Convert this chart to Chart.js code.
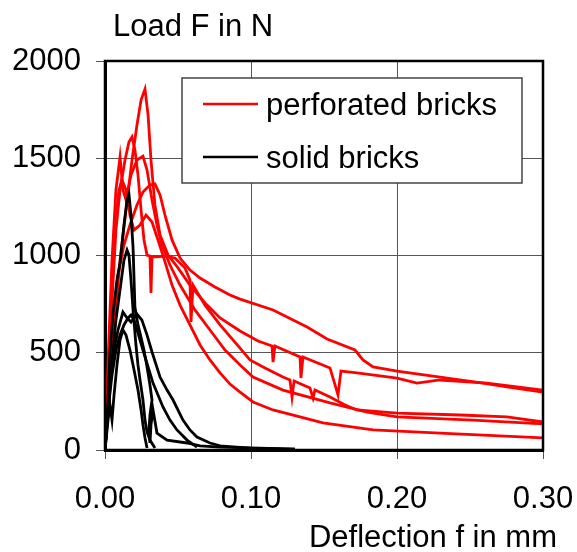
<!DOCTYPE html>
<html>
<head>
<meta charset="utf-8">
<script src="https://cdn.jsdelivr.net/npm/chart.js@4"></script>
<style>
  html, body { margin: 0; padding: 0; background: #fff; }
  #wrap { width: 577px; height: 552px; }
</style>
</head>
<body>
<div id="wrap"><canvas id="loadChart" width="577" height="552"></canvas></div>
<script>
// ---- DATA: [deflection in mm, load in N] ----
const perf1 = [[0,0],[.0027,360],[.0055,668],[.0089,900],[.013,1054],[.0171,1157],[.0219,1260],[.026,1326],[.0308,1362],[.0342,1368],[.0377,1311],[.0411,1208],[.0459,1080],[.0514,987],[.0582,925],[.0651,884],[.0753,838],[.0856,797],[.0925,776],[.1151,720],[.1384,632],[.1521,571],[.1712,514],[.1767,463],[.1836,427],[.2,406],[.2295,375],[.2589,344],[.2753,324],[.3,298]];
const perf2 = [[0,0],[.0034,308],[.0068,668],[.0103,977],[.0144,1234],[.0185,1491],[.0219,1671],[.0247,1799],[.0274,1856],[.0295,1722],[.0315,1491],[.0342,1260],[.0377,1105],[.0432,1002],[.05,936],[.0582,848],[.0685,756],[.0788,679],[.0925,612],[.1048,560],[.1144,535],[.1151,452],[.1164,535],[.1336,478],[.1342,370],[.1356,478],[.1541,422],[.1596,283],[.1616,406],[.1726,396],[.2,370],[.2137,344],[.2295,360],[.2616,344],[.3,308]];
const perf3 = [[0,0],[.0021,360],[.0048,771],[.0075,1131],[.0103,1337],[.0137,1491],[.0164,1583],[.0185,1609],[.0205,1542],[.0226,1414],[.0247,1234],[.0267,1080],[.0288,1002],[.0308,997],[.0315,807],[.0322,992],[.0411,997],[.0479,987],[.0548,936],[.0582,874],[.0589,658],[.0603,848],[.0685,745],[.0788,643],[.0925,524],[.0993,463],[.1096,422],[.1219,375],[.1267,360],[.1281,272],[.1295,355],[.1404,319],[.1425,267],[.1438,308],[.1541,272],[.1644,231],[.1726,206],[.2,190],[.2432,180],[.2753,170],[.3,144]];
const perf4 = [[0,0],[.0021,463],[.0048,977],[.0075,1337],[.0103,1506],[.0123,1337],[.0144,1285],[.0178,1414],[.0219,1491],[.026,1511],[.0288,1439],[.0322,1285],[.0356,1157],[.039,1054],[.0445,951],[.0514,848],[.0616,720],[.0719,617],[.0822,514],[.0925,437],[.1014,375],[.1219,308],[.1541,242],[.1795,195],[.2,170],[.2521,154],[.3,134]];
const perf5 = [[0,0],[.0014,257],[.0034,617],[.0055,925],[.0075,1182],[.0096,1337],[.0116,1388],[.0144,1337],[.0171,1208],[.0199,1131],[.024,1157],[.0281,1208],[.0322,1172],[.0363,1080],[.0411,967],[.0459,848],[.0514,745],[.0582,643],[.0651,540],[.0719,463],[.0788,396],[.0856,339],[.0925,298],[.1014,247],[.1151,206],[.1493,139],[.1836,103],[.2295,87],[.3,62]];

const solid1 = [[0,0],[.0021,257],[.0034,499],[.0055,704],[.0082,874],[.0103,961],[.013,1157],[.0151,1285],[.0164,1316],[.0178,1208],[.0192,1044],[.0205,735],[.0226,643],[.024,601],[.0267,514],[.0288,427],[.0308,334],[.0322,257],[.0308,180],[.0301,103],[.0308,36],[.0315,129],[.0329,206],[.0356,87],[.0425,51],[.0562,36],[.0651,21],[.0788,15],[.1062,10],[.1301,5]];
const solid2 = [[0,0],[.0021,206],[.0048,463],[.0075,668],[.0103,823],[.013,977],[.0151,1028],[.0164,1002],[.0178,874],[.0192,720],[.0212,540],[.0226,437],[.024,360],[.026,257],[.0274,154],[.0288,93],[.0308,51],[.0342,10]];
const solid3 = [[0,0],[.0014,154],[.0034,334],[.0062,514],[.0089,617],[.0123,709],[.0151,679],[.0178,658],[.0219,699],[.0253,668],[.0288,591],[.0322,504],[.0377,375],[.0425,308],[.0466,257],[.0534,154],[.0582,103],[.063,67],[.0719,36],[.0788,21],[.0993,10],[.1301,5]];
const solid4 = [[0,0],[.0021,206],[.0048,386],[.0075,514],[.0103,591],[.013,643],[.0158,679],[.0178,694],[.0199,668],[.0226,601],[.026,514],[.0295,427],[.0329,344],[.0363,283],[.0397,221],[.0445,154],[.0493,103],[.0562,51],[.063,15]];
const solid5 = [[0,0],[.0021,154],[.0034,231],[.0048,154],[.0062,283],[.0082,437],[.0103,566],[.0123,617],[.0144,591],[.0171,514],[.0199,411],[.0226,308],[.0247,206],[.026,129],[.0274,62],[.0288,10]];

const xTicks = [0, 0.1, 0.2, 0.3];
const yTicks = [0, 500, 1000, 1500, 2000];
const legendNames = ['perforated bricks', 'solid bricks'];
const axisTitles = { x: 'Deflection f in mm', y: 'Load F in N' };

// ---- STYLE ----
const red = '#ff0000';
const ink = '#000000';
const gridCol = '#555555';
const FONT = "'Liberation Sans', Arial, sans-serif";
const fontPx = 31;

function curve(points, color) {
  return {
    data: points.map(p => ({ x: p[0], y: p[1] })),
    borderColor: color,
    backgroundColor: color,
    borderWidth: 2.8,
    pointRadius: 0,
    showLine: true,
    tension: 0,
    fill: false,
    order: color === ink ? 0 : 1,
  };
}

const datasets = [
  ...[perf1, perf2, perf3, perf4, perf5].map(c => curve(c, red)),
  ...[solid1, solid2, solid3, solid4, solid5].map(c => curve(c, ink)),
];

// frame, legend box and axis titles
const decor = {
  id: 'decor',
  afterDatasetsDraw(chart) {
    const { ctx, chartArea: a } = chart;
    ctx.save();
    // outer frame
    ctx.strokeStyle = ink;
    ctx.lineWidth = 2.5;
    ctx.strokeRect(a.left, a.top, a.right - a.left, a.bottom - a.top);

    // legend
    const lx = a.left + 77, ly = a.top + 17, lw = 340, lh = 105;
    ctx.fillStyle = '#fff';
    ctx.fillRect(lx, ly, lw, lh);
    ctx.strokeStyle = '#444';
    ctx.lineWidth = 1.5;
    ctx.strokeRect(lx, ly, lw, lh);
    const rows = [[red, 26, 37], [ink, 79, 90]];
    ctx.font = fontPx + 'px ' + FONT;
    ctx.textBaseline = 'alphabetic';
    ctx.textAlign = 'left';
    rows.forEach((r, i) => {
      ctx.strokeStyle = r[0];
      ctx.lineWidth = 2.5;
      ctx.beginPath();
      ctx.moveTo(lx + 21, ly + r[1]);
      ctx.lineTo(lx + 76, ly + r[1]);
      ctx.stroke();
      ctx.fillStyle = ink;
      ctx.fillText(legendNames[i], lx + 84, ly + r[2]);
    });

    // axis titles
    ctx.fillText(axisTitles.y, a.left + 8, 36);
    ctx.textAlign = 'right';
    ctx.fillText(axisTitles.x, a.right + 14, 547);
    ctx.restore();
  }
};

new Chart(document.getElementById('loadChart'), {
  type: 'scatter',
  data: { datasets },
  options: {
    responsive: false,
    animation: false,
    layout: { padding: { top: 61, right: 34, left: 0, bottom: 0 } },
    plugins: {
      legend: { display: false },
      tooltip: { enabled: false },
    },
    scales: {
      x: {
        type: 'linear',
        min: 0,
        max: 0.3,
        afterFit: s => { s.height = 102; s.paddingLeft = 0; s.paddingRight = 0; },
        afterBuildTicks: s => { s.ticks = xTicks.map(v => ({ value: v })); },
        grid: { color: gridCol, lineWidth: 1, tickLength: 9, tickColor: gridCol },
        border: { display: true, color: ink, width: 3 },
        ticks: {
          padding: 22,
          color: ink,
          font: { family: FONT, size: fontPx },
          callback: v => v.toFixed(2),
        },
      },
      y: {
        type: 'linear',
        min: 0,
        max: 2000,
        afterFit: s => { s.width = 105; s.paddingTop = 0; s.paddingBottom = 0; },
        afterBuildTicks: s => { s.ticks = yTicks.map(v => ({ value: v })); },
        grid: { color: gridCol, lineWidth: 1, tickLength: 9, tickColor: gridCol },
        border: { display: true, color: ink, width: 3 },
        ticks: {
          padding: 15,
          color: ink,
          font: { family: FONT, size: fontPx },
          callback: v => String(v),
        },
      },
    },
  },
  plugins: [decor],
});
</script>
</body>
</html>
